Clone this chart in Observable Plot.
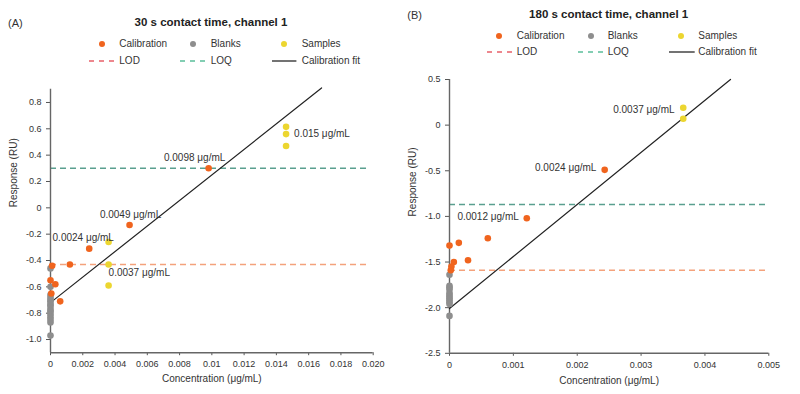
<!DOCTYPE html>
<html><head><meta charset="utf-8">
<script src="https://cdn.jsdelivr.net/npm/d3@7"></script>
<script src="https://cdn.jsdelivr.net/npm/@observablehq/plot@0.6"></script>
<style>
body{margin:0;background:#fff;font-family:"Liberation Sans",Arial,sans-serif;color:#333;}
#root{position:relative;width:800px;height:394px;overflow:hidden;background:#fff;}
.panel{position:absolute;top:0;width:400px;height:394px;}
.hdr{position:relative;width:400px;}
.hdr .it{position:absolute;white-space:nowrap;line-height:1;transform:translateY(-50%);}
.hdr svg.mk{position:absolute;overflow:visible;}
.panel > svg.plot{display:block;}
</style></head><body><div id="root"></div>
<script>
// ---------- Panel A data (30 s contact time) ----------
const calibA_conc = [0.0098, 0.0049, 0.0024, 0.0012, 0.0006, 0.0003, 0.0001, 0.00005, 0.0];
const calibA_resp = [0.30, -0.13, -0.31, -0.43, -0.71, -0.58, -0.44, -0.65, -0.55];
const blanksA_resp = [-0.46, -0.60, -0.66, -0.68, -0.70, -0.71, -0.73, -0.74, -0.76, -0.78, -0.79, -0.81, -0.83, -0.85, -0.87, -0.97];
const samplesA_conc = [0.0036, 0.0036, 0.0036, 0.0146, 0.0146, 0.0146];
const samplesA_resp = [-0.26, -0.43, -0.59, 0.615, 0.56, 0.47];
const fitA_conc = [0, 0.0168];
const fitA_resp = [-0.72, 0.91];
const lodA = -0.43;
const loqA = 0.30;
const labelsA_text = ["0.0098 μg/mL", "0.015 μg/mL", "0.0049 μg/mL", "0.0024 μg/mL", "0.0037 μg/mL"];
const labelsA_conc = [0.0098, 0.0146, 0.0049, 0.0024, 0.0036];
const labelsA_resp = [0.30, 0.56, -0.13, -0.31, -0.43];
const xTicksA = [0, 0.002, 0.004, 0.006, 0.008, 0.01, 0.012, 0.014, 0.016, 0.018, 0.02];
const xTickLabelsA = ["0", "0.002", "0.004", "0.006", "0.008", "0.01", "0.012", "0.014", "0.016", "0.018", "0.020"];
const yTicksA = [0.8, 0.6, 0.4, 0.2, 0, -0.2, -0.4, -0.6, -0.8, -1.0];
const yTickLabelsA = ["0.8", "0.6", "0.4", "0.2", "0", "-0.2", "-0.4", "-0.6", "-0.8", "-1.0"];

// ---------- Panel B data (180 s contact time) ----------
const calibB_conc = [0.00243, 0.00121, 0.0006, 0.000146, 0.0, 0.00029, 0.000068, 0.00003, 0.00002];
const calibB_resp = [-0.49, -1.02, -1.24, -1.29, -1.32, -1.48, -1.50, -1.55, -1.59];
const blanksB_resp = [-1.64, -1.76, -1.78, -1.80, -1.84, -1.86, -1.88, -1.90, -1.92, -1.94, -1.96, -2.09];
const samplesB_conc = [0.00366, 0.00366];
const samplesB_resp = [0.19, 0.07];
const fitB_conc = [0, 0.0044];
const fitB_resp = [-2.01, 0.50];
const lodB = -1.59;
const loqB = -0.87;
const labelsB_text = ["0.0037 μg/mL", "0.0024 μg/mL", "0.0012 μg/mL"];
const labelsB_conc = [0.00366, 0.00243, 0.00121];
const labelsB_resp = [0.19, -0.49, -1.02];
const xTicksB = [0, 0.001, 0.002, 0.003, 0.004, 0.005];
const xTickLabelsB = ["0", "0.001", "0.002", "0.003", "0.004", "0.005"];
const yTicksB = [0.5, 0, -0.5, -1.0, -1.5, -2.0, -2.5];
const yTickLabelsB = ["0.5", "0", "-0.5", "-1.0", "-1.5", "-2.0", "-2.5"];

// ---------- styles ----------
const C_CAL = "#f0641e", C_BLK = "#8e8e8e", C_SMP = "#ecd630";
const C_LOD = "#f4a27c", C_LOQ = "#5a9f8f";
const C_LOD_LEG = "#e8606a", C_LOQ_LEG = "#5bbf9b";
const C_FIT = "#222";
const FONT = "'Liberation Sans', Arial, sans-serif";

const zip = (a, b) => a.map((c, i) => ({c, v: b[i]}));

function header(hdrH, tag, title, tagX, tagY, titleX, titleY, row1Y, row2Y, dotX, textX, lineX) {
  const h = document.createElement("div");
  h.className = "hdr";
  h.style.height = hdrH + "px";
  const add = (txt, x, y, size, bold, center) => {
    const d = document.createElement("div");
    d.className = "it";
    d.textContent = txt;
    d.style.left = x + "px";
    d.style.top = y + "px";
    d.style.fontSize = size + "px";
    if (bold) { d.style.fontWeight = "bold"; d.style.color = "#222"; }
    if (center) d.style.transform = "translate(-50%,-50%)";
    h.appendChild(d);
  };
  add(tag, tagX, tagY, 11, false, false);
  add(title, titleX, titleY, 11.5, true, true);
  const names1 = ["Calibration", "Blanks", "Samples"];
  const cols1 = [C_CAL, C_BLK, C_SMP];
  const names2 = ["LOD", "LOQ", "Calibration fit"];
  const cols2 = [C_LOD_LEG, C_LOQ_LEG, "#444"];
  const dash2 = ["5,5", "5,5", null];
  for (let i = 0; i < 3; i++) {
    const s = document.createElementNS("http://www.w3.org/2000/svg", "svg");
    s.setAttribute("class", "mk");
    s.setAttribute("width", 8); s.setAttribute("height", 8);
    s.style.left = (dotX[i] - 4) + "px"; s.style.top = (row1Y - 4) + "px";
    s.innerHTML = `<circle cx="4" cy="4" r="3" fill="${cols1[i]}"/>`;
    h.appendChild(s);
    add(names1[i], textX[i], row1Y, 10, false, false);
    const w = lineX[i][1] - lineX[i][0];
    const l = document.createElementNS("http://www.w3.org/2000/svg", "svg");
    l.setAttribute("class", "mk");
    l.setAttribute("width", w); l.setAttribute("height", 4);
    l.style.left = lineX[i][0] + "px"; l.style.top = (row2Y - 2) + "px";
    l.innerHTML = `<line x1="0" y1="2" x2="${w}" y2="2" stroke="${cols2[i]}" stroke-width="1.5" ${dash2[i] ? `stroke-dasharray="${dash2[i]}"` : ""}/>`;
    h.appendChild(l);
    add(names2[i], textX[i], row2Y, 10, false, false);
  }
  return h;
}

function chart(o) {
  const labelMarks = o.labels.map((lb, i) => Plot.text([lb], {
    x: "c", y: "v", text: "t", textAnchor: o.labelStyle[i][0], dx: o.labelStyle[i][1], dy: o.labelStyle[i][2],
    fontSize: 10, fill: "#333", fontFamily: FONT
  }));
  return Plot.plot({
    width: 400, height: o.height,
    marginTop: o.mt, marginBottom: o.mb, marginLeft: o.ml, marginRight: o.mr,
    style: {fontFamily: FONT, background: "#fff", color: "#333", overflow: "visible"},
    x: {domain: o.xDomain},
    y: {domain: o.yDomain},
    marks: [
      Plot.ruleY([{v: o.lod}], {y: "v", x1: 0, x2: o.ruleEnd, stroke: C_LOD, strokeWidth: 1.6, strokeDasharray: "6,4"}),
      Plot.ruleY([{v: o.loq}], {y: "v", x1: 0, x2: o.ruleEnd, stroke: C_LOQ, strokeWidth: 1.6, strokeDasharray: "6,4"}),
      Plot.axisX({ticks: o.xTicks, tickFormat: d => o.xLabels[o.xTicks.indexOf(d)], tickSize: 3, tickPadding: 5, fontSize: 9, label: null, stroke: "#555", fill: "#333"}),
      Plot.axisY({ticks: o.yTicks, tickFormat: d => o.yLabels[o.yTicks.indexOf(d)], tickSize: 4, tickPadding: 5, fontSize: 9, label: null, stroke: "#555", fill: "#333"}),
      Plot.ruleX([0], {stroke: "#666", strokeWidth: 1.4}),
      Plot.ruleY([o.yDomain[0]], {stroke: "#666", strokeWidth: 1.4}),
      Plot.line(o.fit, {x: "c", y: "v", stroke: C_FIT, strokeWidth: 1.2}),
      Plot.dot(o.blanks, {x: "c", y: "v", r: 3.3, fill: C_BLK}),
      Plot.dot(o.calib, {x: "c", y: "v", r: 3.3, fill: C_CAL}),
      Plot.dot(o.samples, {x: "c", y: "v", r: 3.3, fill: C_SMP}),
      ...labelMarks,
      Plot.text(["Response (RU)"], {frameAnchor: "left", dx: -36.7, dy: o.ylabDy, rotate: -90, fontSize: 10, fill: "#333", fontFamily: FONT}),
      Plot.text(["Concentration (μg/mL)"], {frameAnchor: "bottom", dy: o.xlabDy, fontSize: 10, fill: "#333", fontFamily: FONT})
    ]
  });
}

const root = document.getElementById("root");

// Panel A
const pA = document.createElement("div");
pA.className = "panel"; pA.style.left = "0px";
pA.appendChild(header(70, "(A)", "30 s contact time, channel 1", 8, 23, 211, 22.7, 44.3, 60.7,
  [102.3, 193.3, 284.3], [119.3, 210.7, 301.7], [[89, 115], [180, 206], [272.3, 296.7]]));
const svgA = chart({
  height: 324, mt: 18.8, mb: 41.8, ml: 50, mr: 27.3,
  xDomain: [0, 0.02], yDomain: [-1.1, 0.9], ruleEnd: 0.0196,
  lod: lodA, loq: loqA,
  xTicks: xTicksA, xLabels: xTickLabelsA, yTicks: yTicksA, yLabels: yTickLabelsA,
  fit: zip(fitA_conc, fitA_resp),
  blanks: blanksA_resp.map(v => ({c: 0, v})),
  calib: zip(calibA_conc, calibA_resp),
  samples: zip(samplesA_conc, samplesA_resp),
  labels: labelsA_text.map((t, i) => ({t, c: labelsA_conc[i], v: labelsA_resp[i]})),
  labelStyle: [["end", 16.7, -10.3], ["start", 8, 0], ["middle", 1, -10], ["middle", -6, -11], ["start", 0, 8.5]],
  ylabDy: -13.8, xlabDy: 29.5
});
svgA.classList.add("plot");
pA.appendChild(svgA);
root.appendChild(pA);

// Panel B
const pB = document.createElement("div");
pB.className = "panel"; pB.style.left = "400px";
pB.appendChild(header(62, "(B)", "180 s contact time, channel 1", 7.3, 15, 208.7, 14.7, 36, 52.3,
  [99.3, 190.7, 281], [116.7, 207.7, 298.3], [[87.3, 112.7], [178, 204], [269.3, 295]]));
const svgB = chart({
  height: 332, mt: 17, mb: 41.2, ml: 49, mr: 31.7,
  xDomain: [0, 0.005], yDomain: [-2.5, 0.5], ruleEnd: 0.00497,
  lod: lodB, loq: loqB,
  xTicks: xTicksB, xLabels: xTickLabelsB, yTicks: yTicksB, yLabels: yTickLabelsB,
  fit: zip(fitB_conc, fitB_resp),
  blanks: blanksB_resp.map(v => ({c: 0, v})),
  calib: zip(calibB_conc, calibB_resp),
  samples: zip(samplesB_conc, samplesB_resp),
  labels: labelsB_text.map((t, i) => ({t, c: labelsB_conc[i], v: labelsB_resp[i]})),
  labelStyle: [["end", -8.7, 2], ["end", -8.3, -2.3], ["end", -8, -1.6]],
  ylabDy: 0, xlabDy: 30.5
});
svgB.classList.add("plot");
pB.appendChild(svgB);
root.appendChild(pB);
</script></body></html>
